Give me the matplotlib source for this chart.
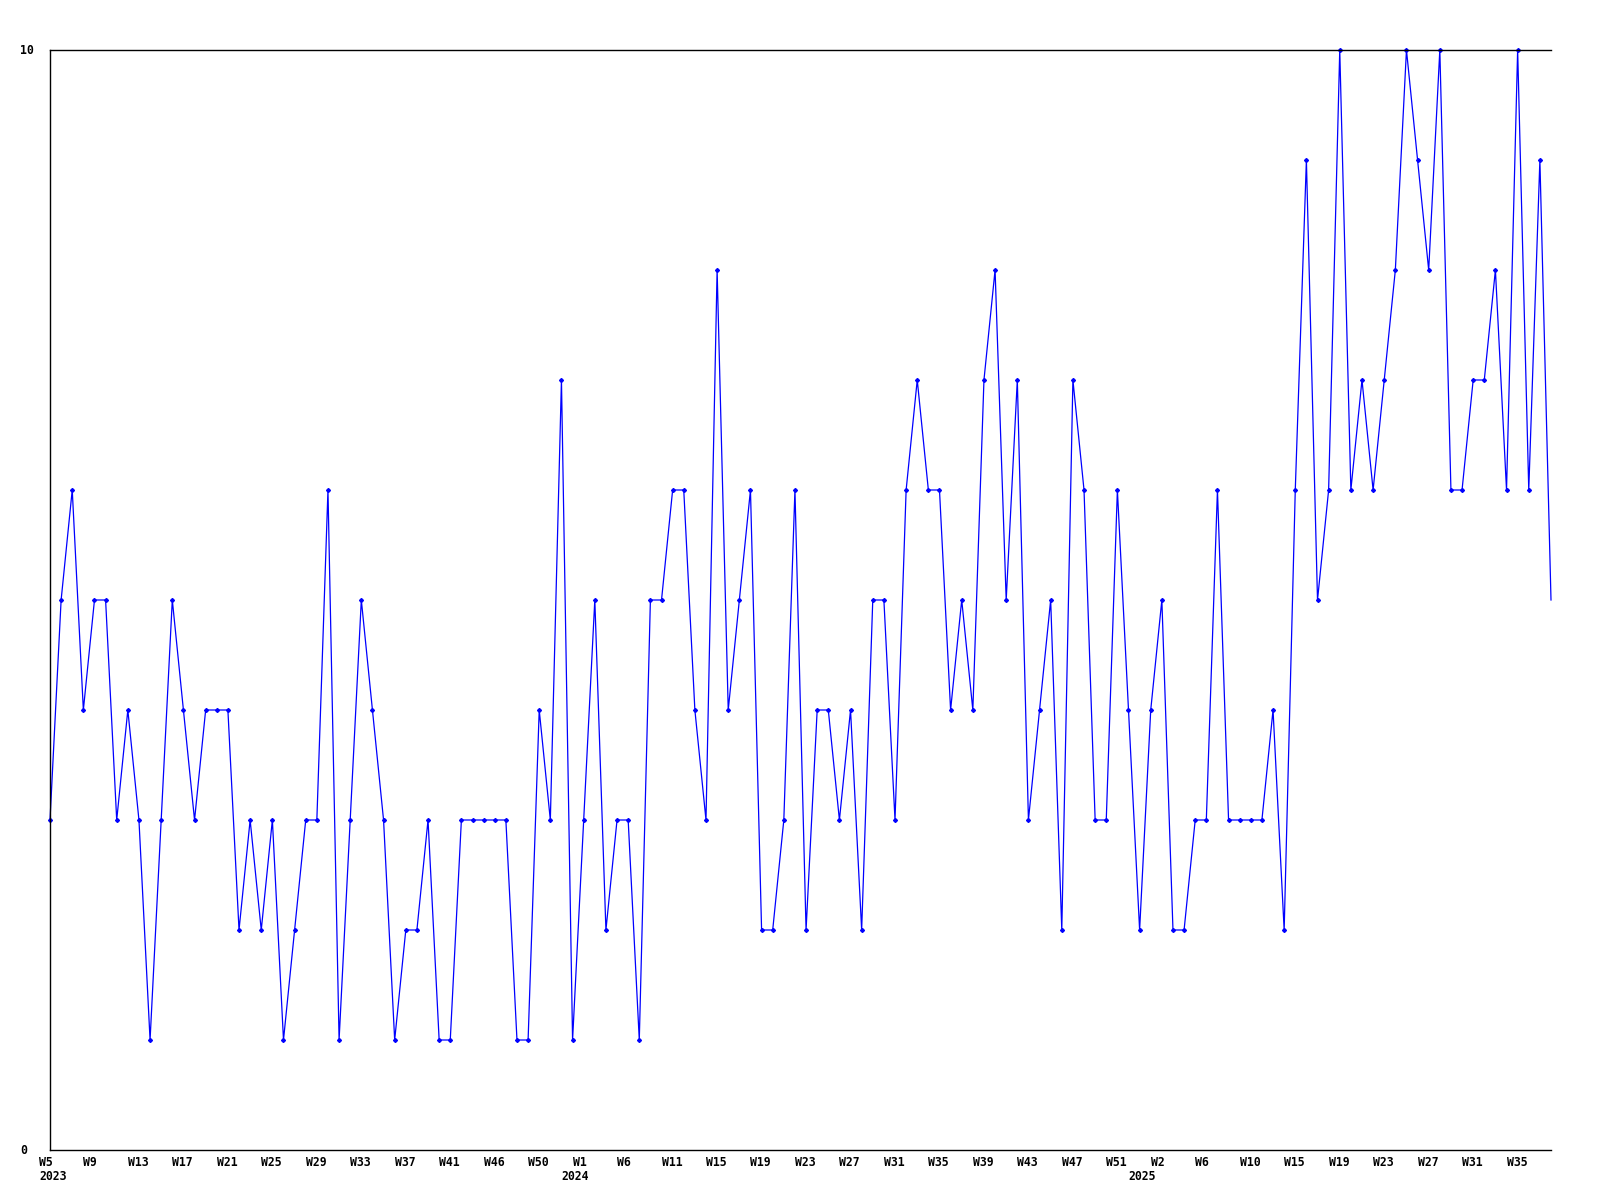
import matplotlib
matplotlib.use("Agg")
import matplotlib.pyplot as plt
from matplotlib.transforms import blended_transform_factory

# weekly counts, one per week starting 2023-W5
values = [
    3, 5, 6, 4, 5, 5, 3, 4, 3, 1, 3, 5, 4, 3, 4, 4, 4, 2, 3, 2, 3, 1, 2, 3, 3, 6, 1, 3,
    5, 4, 3, 1, 2, 2, 3, 1, 1, 3, 3, 3, 3, 3, 1, 1, 4, 3, 7, 1, 3, 5, 2, 3, 3, 1, 5,
    5, 6, 6, 4, 3, 8, 4, 5, 6, 2, 2, 3, 6, 2, 4, 4, 3, 4, 2, 5, 5, 3, 6, 7, 6, 6, 4,
    5, 4, 7, 8, 5, 7, 3, 4, 5, 2, 7, 6, 3, 3, 6, 4, 2, 4, 5, 2, 2, 3, 3, 6, 3, 3, 3, 3,
    4, 2, 6, 9, 5, 6, 10, 6, 7, 6, 7, 8, 10, 9, 8, 10, 6, 6, 7, 7, 8, 6, 10, 6, 9, 5,
]

week_labels = [
    "W5", "W9", "W13", "W17", "W21", "W25", "W29", "W33", "W37", "W41", "W46", "W50",
    "W1", "W6", "W11", "W15", "W19", "W23", "W27", "W31", "W35", "W39", "W43", "W47", "W51",
    "W2", "W6", "W10", "W15", "W19", "W23", "W27", "W31", "W35",
]
year_labels = ["2023", "2024", "2025"]
year_pos = [-1, 46, 97]

x = list(range(len(values)))

font = dict(family="DejaVu Sans Mono", fontweight="bold", fontsize=8.3)

fig = plt.figure(figsize=(16, 12), dpi=100)
ax = fig.add_axes([50 / 1600, 50 / 1200, 1501 / 1600, 1100 / 1200])

ax.plot(x, values, color="#0000ff", lw=0.9, marker="D", ms=2.0,
        markevery=list(range(len(values) - 1)), clip_on=False)

ax.set_xlim(0, len(values) - 1)
ax.set_ylim(0, 10)

for side in ["left", "top", "bottom"]:
    ax.spines[side].set_linewidth(1.0)
    ax.spines[side].set_color("black")
ax.spines["right"].set_visible(False)

ax.set_xticks([])
ax.set_yticks([])

# y labels at the figure's left edge
fig.text(20 / 1600, 1 - 50 / 1200, "10", ha="left", va="center", **font)
fig.text(20 / 1600, 1 - 1150 / 1200, "0", ha="left", va="center", **font)

trans = blended_transform_factory(ax.transData, fig.transFigure)
for k, lab in enumerate(week_labels):
    ax.text(4 * k - 1, 1 - 1162 / 1200, lab, transform=trans, ha="left",
            va="center", clip_on=False, **font)
for pos, lab in zip(year_pos, year_labels):
    ax.text(pos, 1 - 1177 / 1200, lab, transform=trans, ha="left",
            va="center", clip_on=False, **font)

fig.savefig("out.png", dpi=100)
